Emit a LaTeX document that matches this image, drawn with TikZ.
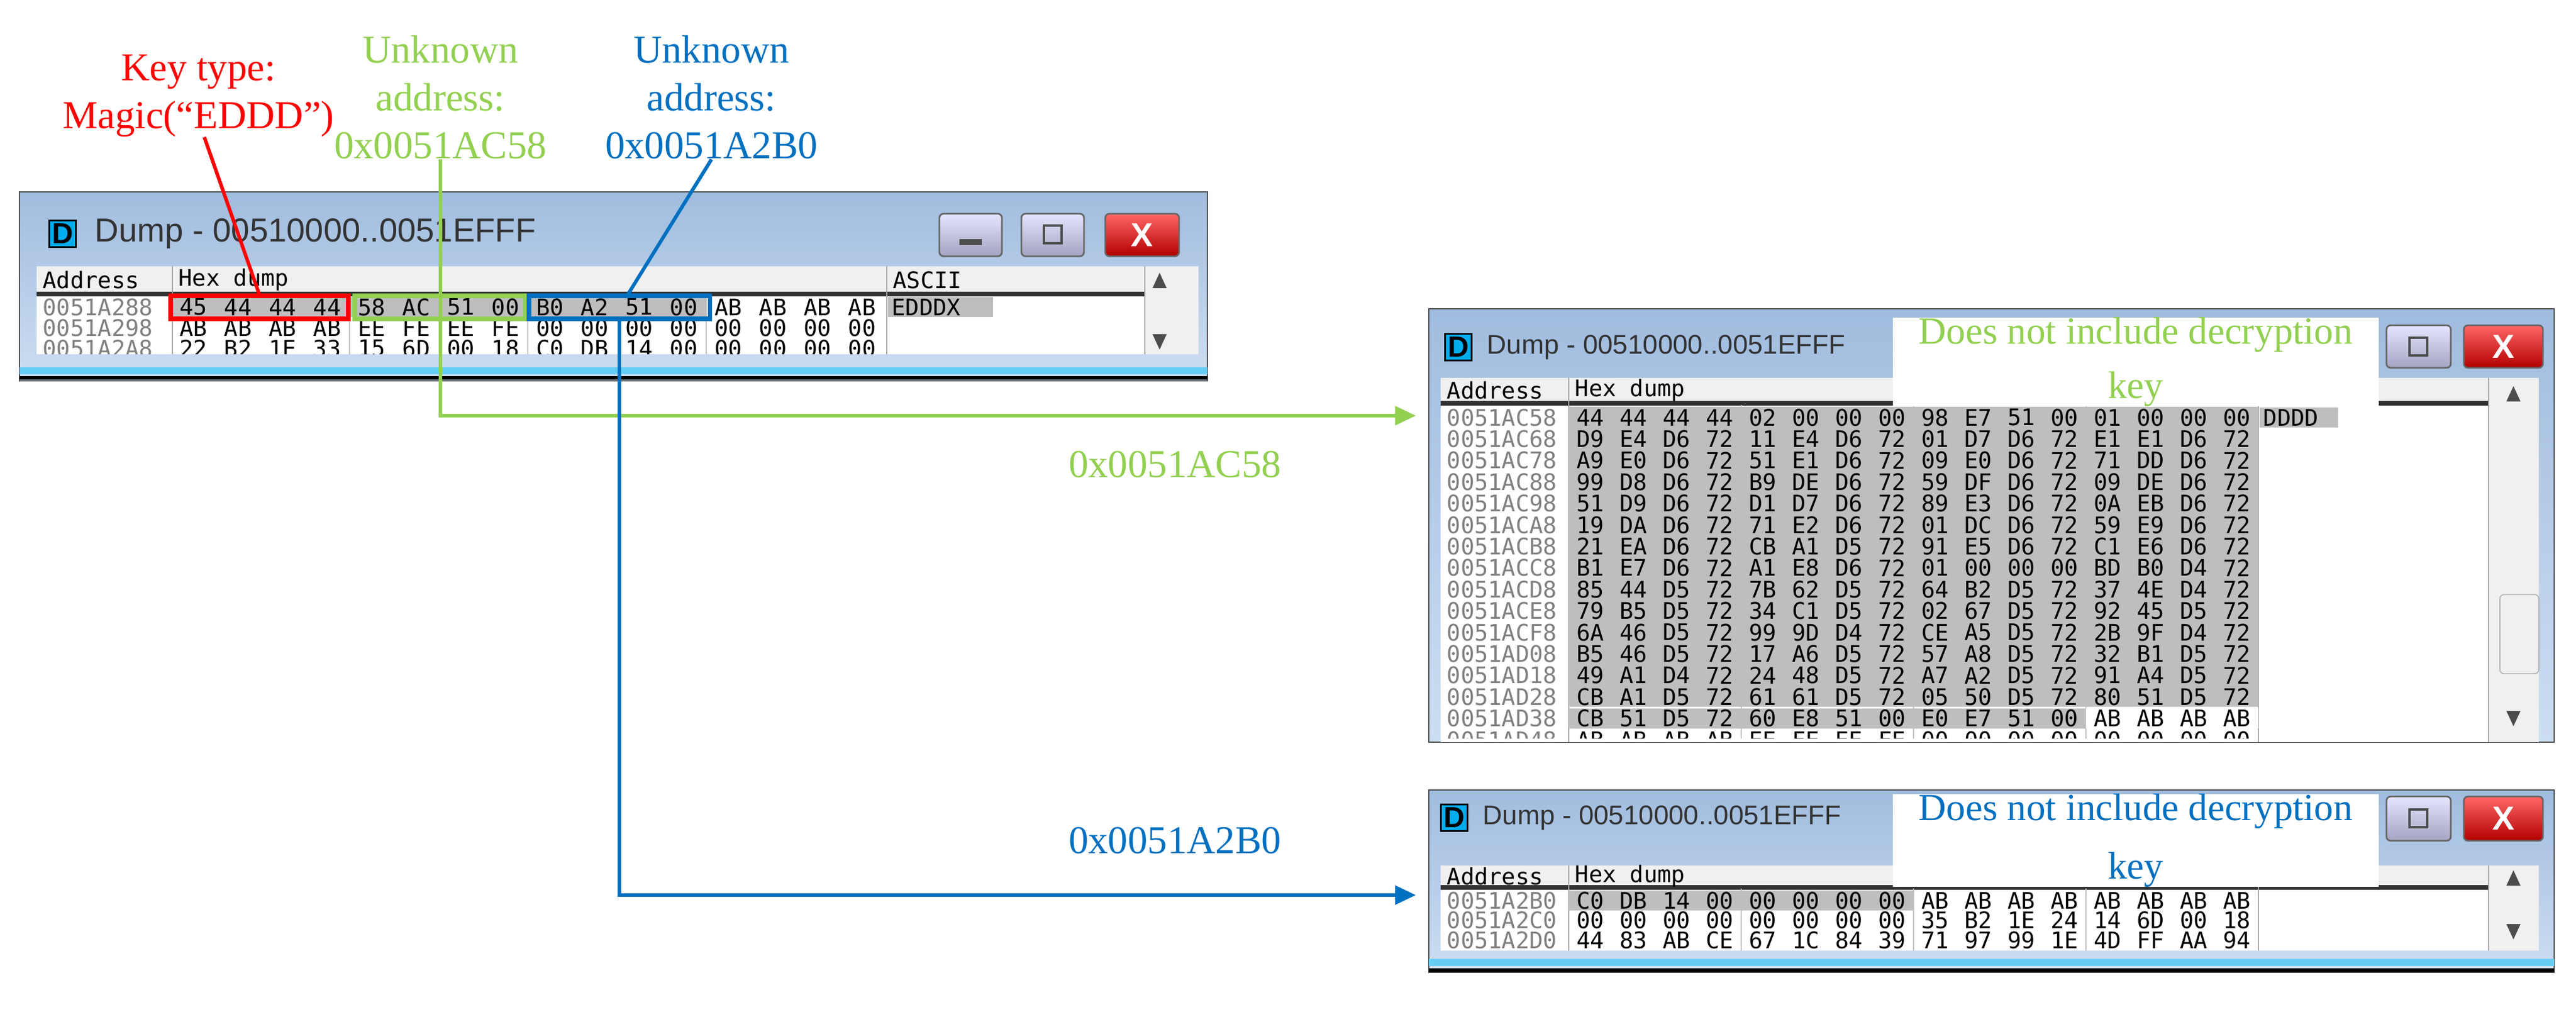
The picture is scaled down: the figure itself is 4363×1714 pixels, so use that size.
\documentclass[tikz,border=0pt]{standalone}
\usepackage{fontspec}
\setmainfont{Liberation Serif}
\newfontfamily\monof{DejaVu Sans Mono}
\newfontfamily\titlef{Liberation Sans}
\usetikzlibrary{arrows.meta}
\definecolor{cgreen}{RGB}{146,208,80}
\definecolor{cblue}{RGB}{0,112,192}
\definecolor{wtop}{RGB}{160,188,222}
\definecolor{wbot}{RGB}{205,222,242}
\definecolor{hdr}{RGB}{240,240,240}
\definecolor{hl}{RGB}{190,190,190}
\tikzset{
  lbl/.style={font=\fontsize{19}{23}\selectfont, align=center, inner sep=0pt},
  mono/.style={font=\monof\fontsize{11}{11}\selectfont, inner sep=0pt},
  addrtxt/.style={mono, text=gray, anchor=west},
  hexb/.style={mono},
  hdrtxt/.style={mono, anchor=west},
  wtitle/.style={font=\titlef\fontsize{16}{16}\selectfont, anchor=west, text=black!80, inner sep=0pt},
  wtitles/.style={wtitle, font=\titlef\fontsize{13}{13}\selectfont},
  icon/.style={draw=black, fill=cyan, line width=1pt, minimum width=4.5mm, minimum height=4.5mm, inner sep=0pt, font=\titlef\bfseries\fontsize{14}{14}\selectfont},
  btn/.style={draw=black!60, rounded corners=2pt, top color=white!90!blue, bottom color=blue!20!gray!60, line width=0.8pt},
  cbtn/.style={draw=black!60, rounded corners=2pt, top color=red!60!white, bottom color=red!70!black, line width=0.8pt},
  conn/.style={line width=1.7pt},
  tip/.style={-{Triangle[length=10pt,width=9pt]}},
  note/.style={fill=white, inner sep=0pt, font=\fontsize{18.5}{22}\selectfont, align=center}
}
% #1 x of address, #2 hex0, #3 y, #4 address, #5 bytes, #6 ngray, #7 step
\newcommand\hexrow[7]{%
  \ifnum#6>0 \fill[hl] (#2,#3-17) rectangle ({#2+#6*#7},#3+17);\fi
  \node[addrtxt] (a#4) at (#1,#3) {#4};
  \foreach \b [count=\i from 0] in {#5} {\node[hexb] at ({#2+(\i+0.5)*#7},#3) {\b};}
}
% frame: #1 x1 #2 y1 #3 x2 #4 y2
\newcommand\winframe[4]{%
  \shade[top color=wtop, bottom color=wbot] (#1,#2) rectangle (#3,#4);
  \draw[black!70, line width=0.8pt] (#1,#2) rectangle (#3,#4);
}
\begin{document}
\begin{tikzpicture}[x=0.1mm,y=-0.1mm]
\useasboundingbox (0,0) rectangle (4363,1714);
\fill[white] (0,0) rectangle (4363,1714);

% ================= Window 1 =================
\winframe{33}{325}{2045}{645}
\fill[cyan!60] (33,622) rectangle (2045,634);
\draw[black, line width=1.5pt] (33,640) -- (2045,640);
\node[icon] (i1) at (106,396) {D};
\node[wtitle] (t1) at (160,396) {Dump - 00510000..0051EFFF};
\draw[btn] (1591,362) rectangle (1697,434); \fill[black!70] (1625,405) rectangle (1663,415);
\draw[btn] (1730,362) rectangle (1836,434); \draw[black!70,line width=1.2pt] (1768,382) rectangle (1798,412);
\draw[cbtn] (1872,362) rectangle (1997,434); \node[font=\titlef\bfseries\fontsize{16}{16}\selectfont,text=white] (x1) at (1934,398) {X};
\fill[white] (62,451) rectangle (2030,600);
\fill[hdr] (62,451) rectangle (2030,497);
\fill[hdr] (1939,497) rectangle (2030,600);
\draw[black!80, line width=2pt] (62,498) -- (1939,498);
\draw[gray!70] (292,451) -- (292,600) (1502,451) -- (1502,600) (1939,451) -- (1939,600);
\draw[gray!50] (592,500) -- (592,600) (894,500) -- (894,600) (1196,500) -- (1196,600);
\node[hdrtxt] (h1a) at (72,474) {Address};
\node[hdrtxt] (h1b) at (302,474) {Hex dump};
\node[hdrtxt] (h1c) at (1512,474) {ASCII};
\fill[black!70] (1952,488) -- (1976,488) -- (1964,462) -- cycle;
\fill[black!70] (1952,566) -- (1976,566) -- (1964,592) -- cycle;
\fill[hl] (1504,503) rectangle (1682,537);
\node[mono, anchor=west] (as1) at (1510,520) {EDDDX};
\hexrow{72}{290}{520}{0051A288}{45,44,44,44,58,AC,51,00,B0,A2,51,00,AB,AB,AB,AB}{12}{75.5}
\hexrow{72}{290}{555}{0051A298}{AB,AB,AB,AB,EE,FE,EE,FE,00,00,00,00,00,00,00,00}{0}{75.5}
\begin{scope}
\clip (62,500) rectangle (2030,600);
\hexrow{72}{290}{590}{0051A2A8}{22,B2,1E,33,15,6D,00,18,C0,DB,14,00,00,00,00,00}{0}{75.5}
\end{scope}
\draw[red, line width=2pt] (289,501) rectangle (590,540);
\draw[cgreen, line width=2pt] (601,501) rectangle (890,540);
\draw[cblue, line width=2pt] (896,501) rectangle (1202,540);
\coordinate (rb) at (440,501);
\coordinate (gb) at (746,704);
\coordinate (bbt) at (1062,501);
\coordinate (bbb) at (1049,540);
\coordinate (bc) at (1049,1516);

% ================= Window 2 =================
\winframe{2420}{523}{4326}{1257}
\node[icon] (i2) at (2470,588) {D};
\node[wtitles] (t2) at (2518,588) {Dump - 00510000..0051EFFF};
\draw[btn] (4042,551) rectangle (4151,623); \draw[black!70,line width=1.2pt] (4081,572) rectangle (4111,602);
\draw[cbtn] (4173,551) rectangle (4307,623); \node[font=\titlef\bfseries\fontsize{16}{16}\selectfont,text=white] (x2) at (4240,587) {X};
\fill[white] (2440,640) rectangle (4300,1257);
\fill[hdr] (2440,640) rectangle (4300,682);
\fill[hdr] (4215,682) rectangle (4300,1257);
\draw[black!80, line width=2pt] (2440,683) -- (4215,683);
\draw[gray!70] (2657,640) -- (2657,1257) (3825,640) -- (3825,1257) (4215,640) -- (4215,1257);
\node[hdrtxt] (h2a) at (2450,661) {Address};
\node[hdrtxt] (h2b) at (2667,661) {Hex dump};
\node[hdrtxt] (h2c) at (3835,661) {ASCII};
\fill[black!70] (4245,680) -- (4269,680) -- (4257,654) -- cycle;
\fill[black!70] (4245,1204) -- (4269,1204) -- (4257,1230) -- cycle;
\draw[gray!70, rounded corners=2pt, fill=hdr] (4234,1007) rectangle (4300,1141);
\fill[hl] (3827,690) rectangle (3960,724);
\node[mono, anchor=west] (as2) at (3833,707) {DDDD};
\begin{scope}
\clip (2440,686) rectangle (4300,1250);
\fill[hl] (2657,689) rectangle (3825,1197);
\draw[gray!50] (2949,686) -- (2949,1257) (3241,686) -- (3241,1257) (3533,686) -- (3533,1257);
\hexrow{2450}{2657}{707.0}{0051AC58}{44,44,44,44,02,00,00,00,98,E7,51,00,01,00,00,00}{0}{73}
\hexrow{2450}{2657}{743.4}{0051AC68}{D9,E4,D6,72,11,E4,D6,72,01,D7,D6,72,E1,E1,D6,72}{0}{73}
\hexrow{2450}{2657}{779.8}{0051AC78}{A9,E0,D6,72,51,E1,D6,72,09,E0,D6,72,71,DD,D6,72}{0}{73}
\hexrow{2450}{2657}{816.2}{0051AC88}{99,D8,D6,72,B9,DE,D6,72,59,DF,D6,72,09,DE,D6,72}{0}{73}
\hexrow{2450}{2657}{852.6}{0051AC98}{51,D9,D6,72,D1,D7,D6,72,89,E3,D6,72,0A,EB,D6,72}{0}{73}
\hexrow{2450}{2657}{889.0}{0051ACA8}{19,DA,D6,72,71,E2,D6,72,01,DC,D6,72,59,E9,D6,72}{0}{73}
\hexrow{2450}{2657}{925.4}{0051ACB8}{21,EA,D6,72,CB,A1,D5,72,91,E5,D6,72,C1,E6,D6,72}{0}{73}
\hexrow{2450}{2657}{961.8}{0051ACC8}{B1,E7,D6,72,A1,E8,D6,72,01,00,00,00,BD,B0,D4,72}{0}{73}
\hexrow{2450}{2657}{998.2}{0051ACD8}{85,44,D5,72,7B,62,D5,72,64,B2,D5,72,37,4E,D4,72}{0}{73}
\hexrow{2450}{2657}{1034.6}{0051ACE8}{79,B5,D5,72,34,C1,D5,72,02,67,D5,72,92,45,D5,72}{0}{73}
\hexrow{2450}{2657}{1071.0}{0051ACF8}{6A,46,D5,72,99,9D,D4,72,CE,A5,D5,72,2B,9F,D4,72}{0}{73}
\hexrow{2450}{2657}{1107.4}{0051AD08}{B5,46,D5,72,17,A6,D5,72,57,A8,D5,72,32,B1,D5,72}{0}{73}
\hexrow{2450}{2657}{1143.8}{0051AD18}{49,A1,D4,72,24,48,D5,72,A7,A2,D5,72,91,A4,D5,72}{0}{73}
\hexrow{2450}{2657}{1180.2}{0051AD28}{CB,A1,D5,72,61,61,D5,72,05,50,D5,72,80,51,D5,72}{0}{73}
\fill[white] (3533,1198) rectangle (3825,1234);
\hexrow{2450}{2657}{1216.6}{0051AD38}{CB,51,D5,72,60,E8,51,00,E0,E7,51,00,AB,AB,AB,AB}{12}{73}
\hexrow{2450}{2657}{1253.0}{0051AD48}{AB,AB,AB,AB,EE,FE,EE,FE,00,00,00,00,00,00,00,00}{0}{73}
\end{scope}
\node[note, text=cgreen, minimum width=82.3mm, minimum height=13.6mm, anchor=north west] (n2) at (3205,537) {Does not include decryption\\[4pt]key};

% ================= Window 3 =================
\winframe{2420}{1338}{4326}{1647}
\fill[cyan!60] (2420,1624) rectangle (4326,1636);
\draw[black, line width=1.5pt] (2420,1643) -- (4326,1643);
\node[icon] (i3) at (2463,1385) {D};
\node[wtitles] (t3) at (2511,1385) {Dump - 00510000..0051EFFF};
\draw[btn] (4042,1349) rectangle (4151,1424); \draw[black!70,line width=1.2pt] (4081,1371) rectangle (4111,1401);
\draw[cbtn] (4173,1349) rectangle (4307,1424); \node[font=\titlef\bfseries\fontsize{16}{16}\selectfont,text=white] (x3) at (4240,1386) {X};
\fill[white] (2440,1466) rectangle (4300,1610);
\fill[hdr] (2440,1466) rectangle (4300,1502);
\fill[hdr] (4215,1502) rectangle (4300,1610);
\draw[black!80, line width=2pt] (2440,1503) -- (4215,1503);
\draw[gray!70] (2657,1466) -- (2657,1610) (3825,1466) -- (3825,1610) (4215,1466) -- (4215,1610);
\draw[gray!50] (2949,1505) -- (2949,1610) (3241,1505) -- (3241,1610) (3533,1505) -- (3533,1610);
\node[hdrtxt] (h3a) at (2450,1484) {Address};
\node[hdrtxt] (h3b) at (2667,1484) {Hex dump};
\node[hdrtxt] (h3c) at (3835,1484) {ASCII};
\fill[black!70] (4245,1500) -- (4269,1500) -- (4257,1474) -- cycle;
\fill[black!70] (4245,1565) -- (4269,1565) -- (4257,1591) -- cycle;
\begin{scope}
\clip (2440,1505) rectangle (4300,1610);
\hexrow{2450}{2657}{1525}{0051A2B0}{C0,DB,14,00,00,00,00,00,AB,AB,AB,AB,AB,AB,AB,AB}{8}{73}
\hexrow{2450}{2657}{1558}{0051A2C0}{00,00,00,00,00,00,00,00,35,B2,1E,24,14,6D,00,18}{0}{73}
\hexrow{2450}{2657}{1592}{0051A2D0}{44,83,AB,CE,67,1C,84,39,71,97,99,1E,4D,FF,AA,94}{0}{73}
\end{scope}
\node[note, text=cblue, minimum width=82.3mm, minimum height=14.4mm, anchor=north west] (n3) at (3205,1344) {Does not include decryption\\[6pt]key};

% ================= Labels and connectors =================
\node[lbl, text=red] (key) at (336,162) {Key type:\\Magic(“EDDD”)};
\node[lbl, text=cgreen] (ug) at (746,165) {Unknown\\address:\\0x0051AC58};
\node[lbl, text=cblue] (ub) at (1205,165) {Unknown\\address:\\0x0051A2B0};
\node[lbl, text=cgreen] (lg) at (1990,787) {0x0051AC58};
\node[lbl, text=cblue] (lb) at (1990,1424) {0x0051A2B0};
\coordinate (w2in) at (2398,704);
\coordinate (w3in) at (2398,1516);
\draw[conn, red] (key.south) ++(10,0) -- (rb);
\draw[conn, cgreen, tip] (ug.south) -- (gb) -- (w2in);
\draw[conn, cblue] (ub.south) -- (bbt);
\draw[conn, cblue, tip] (bbb) -- (bc) -- (w3in);
\end{tikzpicture}
\end{document}
